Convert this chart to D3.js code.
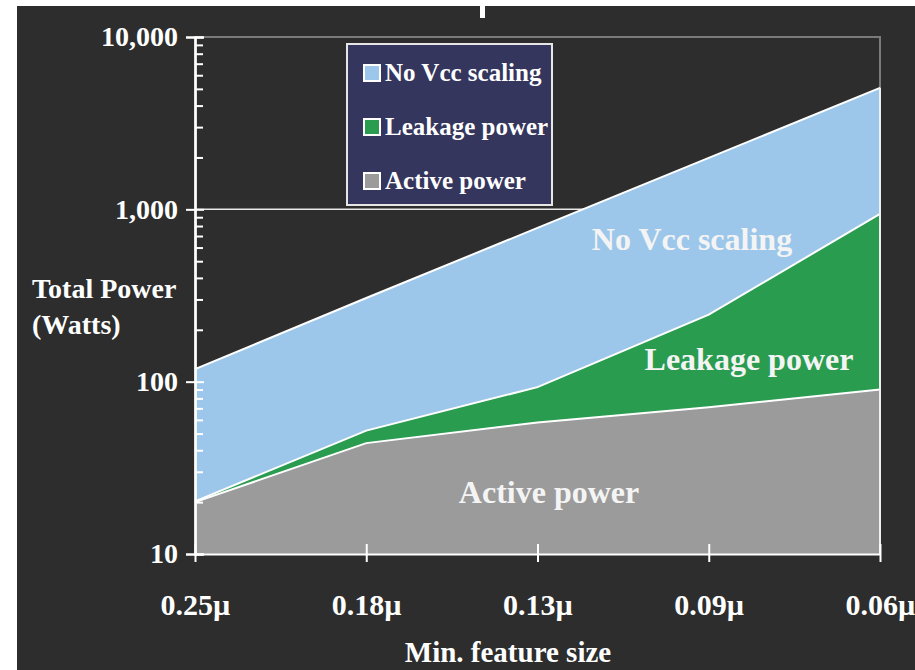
<!DOCTYPE html>
<html>
<head>
<meta charset="utf-8">
<script src="https://cdn.jsdelivr.net/npm/d3@7"></script>
<style>
  html, body { margin: 0; padding: 0; background: #ffffff; }
  svg { display: block; }
  text { font-family: "Liberation Serif", "Times New Roman", serif; font-weight: bold; }
</style>
</head>
<body>
<svg id="chart" width="915" height="670"></svg>
<script>
// ---- data ----
const categories = ["0.25\u00b5", "0.18\u00b5", "0.13\u00b5", "0.09\u00b5", "0.06\u00b5"];
const activePower = [20, 44, 58, 71, 90];
const leakagePower = [0.2, 8, 35, 174, 850];
const noVccScaling = [98, 254, 687, 1745, 4130];
const seriesNames = ["Active power", "Leakage power", "No Vcc scaling"];
const yTickValues = [10, 100, 1000, 10000];
const legendOrder = ["No Vcc scaling", "Leakage power", "Active power"];

const colors = {
  "Active power": "#9b9b9b",
  "Leakage power": "#2a9c4f",
  "No Vcc scaling": "#9dc7ea"
};

const svg = d3.select("#chart");
const W = 915, H = 670;

// background
svg.append("rect").attr("x", 0).attr("y", 0).attr("width", W).attr("height", H).attr("fill", "#ffffff");
svg.append("rect").attr("x", 17).attr("y", 6).attr("width", W - 17).attr("height", H - 6).attr("fill", "#2d2d2d");
// remnant of cut-off title
svg.append("rect").attr("x", 480).attr("y", 6).attr("width", 5).attr("height", 12).attr("fill", "#ffffff");

const x = d3.scalePoint().domain(categories).range([195, 880]);
const y = d3.scaleLog().domain([10, 10000]).range([554, 37]);

const table = categories.map((c, i) => ({
  cat: c,
  "Active power": activePower[i],
  "Leakage power": leakagePower[i],
  "No Vcc scaling": noVccScaling[i]
}));
const stacked = d3.stack().keys(seriesNames)(table);

// plot border (gray)
svg.append("path")
  .attr("d", `M${x.range()[0]},${y(10000)}H${x.range()[1]}V${y(10)}`)
  .attr("fill", "none").attr("stroke", "#7a7a7a").attr("stroke-width", 2);

// gridline at 1,000
svg.append("line")
  .attr("x1", x.range()[0]).attr("x2", x.range()[1])
  .attr("y1", y(1000)).attr("y2", y(1000))
  .attr("stroke", "#e8e8e8").attr("stroke-width", 1.5);

const area = d3.area()
  .x(d => x(d.data.cat))
  .y0(d => y(Math.max(10, d[0])))
  .y1(d => y(Math.max(10, d[1])));

const line = d3.line()
  .x(d => x(d.data.cat))
  .y(d => y(Math.max(10, d[1])));

svg.append("g").selectAll("path")
  .data(stacked).join("path")
  .attr("d", area)
  .attr("fill", d => colors[d.key]);

svg.append("g").selectAll("path")
  .data(stacked).join("path")
  .attr("d", line)
  .attr("fill", "none")
  .attr("stroke", "#ffffff")
  .attr("stroke-width", 2);

// right edge of areas
const lastTop = stacked[stacked.length - 1][categories.length - 1][1];
svg.append("line")
  .attr("x1", x.range()[1]).attr("x2", x.range()[1])
  .attr("y1", y(lastTop)).attr("y2", y(10))
  .attr("stroke", "#f0f0f0").attr("stroke-width", 2);

// y axis
const minorTicks = [];
[10, 100, 1000].forEach(d => { for (let k = 2; k <= 9; k++) minorTicks.push(d * k); });

const yAxisL = svg.append("g").attr("transform", `translate(${x.range()[0]},0)`)
  .call(d3.axisLeft(y).tickValues(yTickValues).tickFormat(d3.format(",")).tickSize(9).tickPadding(8));
yAxisL.selectAll("text").attr("font-size", 28).attr("fill", "#ffffff")
  .attr("font-family", "Liberation Serif, serif").attr("font-weight", "bold");

const yAxisMinor = svg.append("g").attr("transform", `translate(${x.range()[0]},0)`)
  .call(d3.axisRight(y).tickValues(minorTicks).tickFormat("").tickSize(8));
const yAxisMajorR = svg.append("g").attr("transform", `translate(${x.range()[0]},0)`)
  .call(d3.axisRight(y).tickValues(yTickValues).tickFormat("").tickSize(9));

[yAxisL, yAxisMinor, yAxisMajorR].forEach(g => {
  g.select(".domain").attr("stroke", "#ffffff").attr("stroke-width", 2);
  g.selectAll(".tick line").attr("stroke", "#ffffff").attr("stroke-width", 2);
});

// x axis
const xAxis = svg.append("g").attr("transform", `translate(0,${y(10)})`)
  .call(d3.axisBottom(x).tickSize(8).tickPadding(32).tickSizeOuter(0));
xAxis.select(".domain").attr("stroke", "#ffffff").attr("stroke-width", 2);
xAxis.selectAll(".tick line").attr("stroke", "#ffffff").attr("stroke-width", 2).attr("y1", -10);
xAxis.selectAll("text").attr("font-size", 30).attr("fill", "#ffffff")
  .attr("font-family", "Liberation Serif, serif").attr("font-weight", "bold");

// axis titles
const yTitle = svg.append("text").attr("x", 32).attr("y", 298).attr("fill", "#ffffff").attr("font-size", 28);
yTitle.append("tspan").attr("x", 32).attr("dy", 0).text("Total Power");
yTitle.append("tspan").attr("x", 32).attr("dy", 36).text("(Watts)");

svg.append("text").attr("x", 508).attr("y", 662).attr("text-anchor", "middle")
  .attr("fill", "#ffffff").attr("font-size", 29).text("Min. feature size");

// in-chart labels
svg.append("text").attr("x", 692).attr("y", 250).attr("text-anchor", "middle")
  .attr("fill", "#f4f4f4").attr("font-size", 32).text("No Vcc scaling");
svg.append("text").attr("x", 749).attr("y", 370).attr("text-anchor", "middle")
  .attr("fill", "#f4f4f4").attr("font-size", 32).text("Leakage power");
svg.append("text").attr("x", 549).attr("y", 503).attr("text-anchor", "middle")
  .attr("fill", "#f4f4f4").attr("font-size", 32).text("Active power");

// legend
const lg = svg.append("g");
lg.append("rect").attr("x", 347).attr("y", 44).attr("width", 205).attr("height", 161)
  .attr("fill", "#35365d").attr("stroke", "#e6e6e6").attr("stroke-width", 2);
const items = lg.selectAll("g.item").data(legendOrder).join("g")
  .attr("transform", (d, i) => `translate(364,${73 + i * 54})`);
items.append("rect").attr("x", 0).attr("y", -8).attr("width", 16).attr("height", 16)
  .attr("fill", d => colors[d]).attr("stroke", "#ffffff").attr("stroke-width", 2);
items.append("text").attr("x", 21).attr("y", 8).attr("fill", "#ffffff").attr("font-size", 25).text(d => d);
</script>
</body>
</html>
